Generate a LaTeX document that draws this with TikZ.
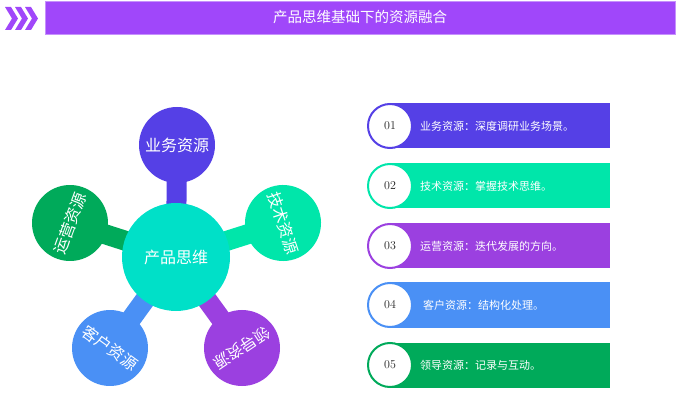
\documentclass[tikz,border=0pt]{standalone}
\usepackage{fontspec}
\newfontfamily\cjk{Noto Sans CJK SC}
\usepackage{tikz}
\usetikzlibrary{positioning, calc, backgrounds}
\definecolor{indigo}{RGB}{85,64,230}
\definecolor{hubteal}{RGB}{0,224,200}
\definecolor{mint}{RGB}{0,230,170}
\definecolor{forest}{RGB}{0,170,90}
\definecolor{sky}{RGB}{74,144,245}
\definecolor{violet}{RGB}{155,64,224}
\definecolor{titlepurple}{RGB}{160,71,250}
\definecolor{numgray}{RGB}{34,34,34}
\tikzset{
    titlebar/.style={
        rectangle, fill=titlepurple, draw=titlepurple!60,
        minimum width=630pt, minimum height=33pt,
        text=white, font=\cjk\fontsize{14.5}{14.5}\selectfont
    },
    hub/.style={circle, fill=hubteal, minimum size=108pt, inner sep=0pt,
        text=white, font=\cjk\fontsize{16}{16}\selectfont},
    petal/.style={circle, minimum size=76pt, inner sep=0pt,
        text=white, font=\cjk\fontsize{16}{16}\selectfont},
    stem/.style={line width=20pt},
    % list styles
    band/.style={rectangle, minimum width=220pt, minimum height=45pt, anchor=west, inner sep=0pt},
    numdisc/.style={circle, draw, line width=2pt, fill=white, minimum size=44pt, inner sep=0pt,
        text=numgray, font=\fontsize{12}{12}\selectfont},
    bandtext/.style={text=white, font=\cjk\fontsize{11}{11}\selectfont, inner sep=0pt}
}
\begin{document}
\begin{tikzpicture}[x=1pt, y=-1pt]
        \useasboundingbox (0,0) rectangle (677,403);

        % Header
        \foreach \i in {0,1,2}
            \fill[titlepurple] (5+10*\i,7) -- ++(6,0) -- ++(7,11.5) -- ++(-7,11.5) -- ++(-6,0) -- ++(7,-11.5) -- cycle;
        \node [titlebar] (title) at (360,17.5) {产品思维基础下的资源融合};

        % Hub and petals
        \node [hub] (hub) at (176,257) {产品思维};
        \node [petal, fill=indigo] (yewu) at (177,145) {业务资源};
        \node [petal, fill=mint, rotate=-72] (jishu) at (283,223) {技术资源};
        \node [petal, fill=forest, rotate=70] (yunying) at (70,223) {运营资源};
        \node [petal, fill=sky, rotate=-36] (kehu) at (110,348) {客户资源};
        \node [petal, fill=violet, rotate=-146] (lingdao) at (242,348) {领导资源};

        \begin{scope}[on background layer]
            \draw [stem, indigo] (hub.center) -- (yewu.center);
            \draw [stem, mint] (hub.center) -- (jishu.center);
            \draw [stem, forest] (hub.center) -- (yunying.center);
            \draw [stem, sky] (hub.center) -- (kehu.center);
            \draw [stem, violet] (hub.center) -- (lingdao.center);
        \end{scope}

        % List
        \node [band, fill=indigo] (band1) at (390,126) {};
        \node [numdisc, draw=indigo] (num1) at (390,126) {01};
        \node [bandtext, right=7pt of num1] (txt1) {业务资源：深度调研业务场景。};

        \node [band, fill=mint] (band2) at (390,186) {};
        \node [numdisc, draw=mint] (num2) at (390,186) {02};
        \node [bandtext, right=7pt of num2] (txt2) {技术资源：掌握技术思维。};

        \node [band, fill=violet] (band3) at (390,246) {};
        \node [numdisc, draw=violet] (num3) at (390,246) {03};
        \node [bandtext, right=7pt of num3] (txt3) {运营资源：迭代发展的方向。};

        \node [band, fill=sky] (band4) at (390,305) {};
        \node [numdisc, draw=sky] (num4) at (390,305) {04};
        \node [bandtext, right=10pt of num4] (txt4) {客户资源：结构化处理。};

        \node [band, fill=forest] (band5) at (390,365) {};
        \node [numdisc, draw=forest] (num5) at (390,365) {05};
        \node [bandtext, right=7pt of num5] (txt5) {领导资源：记录与互动。};

    \end{tikzpicture}
\end{document}
